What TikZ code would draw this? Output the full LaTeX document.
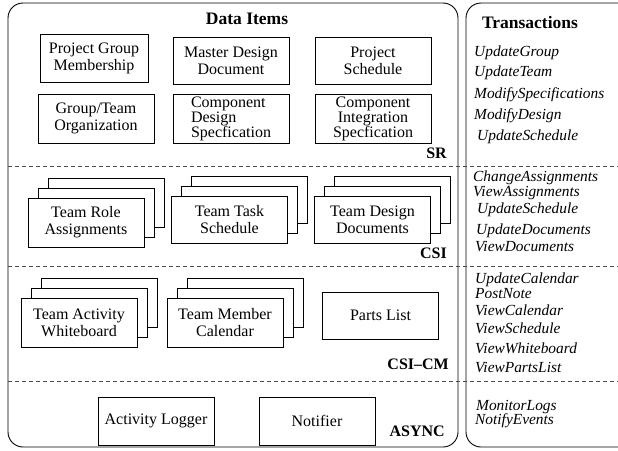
\documentclass[tikz,border=0pt]{standalone}
\usepackage{fontspec}
\setmainfont{Liberation Serif}
\usetikzlibrary{positioning, shadows}

\tikzset{
	item/.style={draw, fill=white, line width=0.8pt, minimum width=116pt, minimum height=49pt, inner sep=2pt, align=center, font=\fontsize{16}{17}\selectfont},
	stack/.style={item, copy shadow={shadow xshift=20pt, shadow yshift=20pt}, copy shadow={shadow xshift=10pt, shadow yshift=10pt}},
	heading/.style={font=\fontsize{17.5}{20}\selectfont\bfseries, inner sep=0pt},
	level/.style={font=\fontsize{16}{18}\selectfont\bfseries, anchor=base east, inner sep=0pt},
	trans/.style={font=\fontsize{15.4}{17}\selectfont\itshape, anchor=base west, inner sep=0pt},
	sep/.style={draw=black!70, dash pattern=on 4pt off 3pt, line width=0.8pt},
	panel/.style={draw, rounded corners=15pt, line width=0.9pt},
}

\begin{document}
\begin{tikzpicture}[x=1pt, y=-1pt]
	\useasboundingbox (0,0) rectangle (618,450);
	% the two panels
	\draw [panel] (8,3) rectangle (458,447);
	\draw [panel] (466,3) rectangle (650,447);
	% level separators
	\draw [sep] (8,166) -- (618,166);
	\draw [sep] (8,266.5) -- (618,266.5);
	\draw [sep] (8,381) -- (618,381);

	\node (dataitems) [heading] at (247,19) {Data Items};
	\node (transactions) [heading] at (530,23) {Transactions};

	% SR
	\node (membership) [item, minimum width=108pt, minimum height=48pt] at (94,58) {Project Group\\Membership};
	\node (master) [item, minimum height=47pt] at (231,60.5) {Master Design\\Document};
	\node (schedule) [item, minimum height=47pt] at (373,60.5) {Project\\Schedule};
	\node (organization) [item] at (96,118.5) {Group/Team\\Organization};
	\node (compdesign) [item, align=left, font=\fontsize{16}{15}\selectfont] at (231,118.5) {Component\\Design\\Specfication};
	\node (integration) [item, font=\fontsize{16}{15}\selectfont] at (373,118.5) {Component\\Integration\\Specfication};
	\node (sr) [level] at (447,158) {SR};

	% CSI
	\node (roles) [stack] at (86,222.5) {Team Role\\Assignments};
	\node (tasks) [stack, minimum height=47pt] at (229.5,219.5) {Team Task\\Schedule};
	\node (designdocs) [stack, minimum height=47pt] at (372.5,219.5) {Team Design\\Documents};
	\node (csi) [level] at (447,258) {CSI};

	% CSI-CM
	\node (whiteboard) [stack] at (79,322.5) {Team Activity\\Whiteboard};
	\node (calendar) [stack] at (225,322.5) {Team Member\\Calendar};
	\node (partslist) [item, minimum height=47pt] at (380.5,315.5) {Parts List};
	\node (csicm) [level] at (449,369) {CSI--CM};

	% ASYNC
	\node (logger) [item, minimum height=48pt] at (156,421) {Activity Logger};
	\node (notifier) [item, minimum height=48pt] at (317,421) {Notifier};
	\node (async) [level] at (445,436) {ASYNC};

	% transactions
	\node (updgroup) [trans] at (474,56) {UpdateGroup};
	\node (updteam) [trans] at (474,76.5) {UpdateTeam};
	\node (modspec) [trans] at (474,98) {ModifySpecifications};
	\node (moddesign) [trans] at (474,119) {ModifyDesign};
	\node (updsched) [trans] at (477,140) {UpdateSchedule};

	\node (chassign) [trans] at (473,181.5) {ChangeAssignments};
	\node (viewassign) [trans] at (473,196.5) {ViewAssignments};
	\node (updschedcsi) [trans] at (477,213) {UpdateSchedule};
	\node (upddocs) [trans] at (476,234) {UpdateDocuments};
	\node (viewdocs) [trans] at (475,251.5) {ViewDocuments};

	\node (updcal) [trans] at (475,283) {UpdateCalendar};
	\node (postnote) [trans] at (475,298) {PostNote};
	\node (viewcal) [trans] at (475,315) {ViewCalendar};
	\node (viewsched) [trans] at (475,333) {ViewSchedule};
	\node (viewboard) [trans] at (475,353) {ViewWhiteboard};
	\node (viewparts) [trans] at (475,372) {ViewPartsList};

	\node (monitor) [trans] at (476,410) {MonitorLogs};
	\node (notify) [trans] at (475,424) {NotifyEvents};
\end{tikzpicture}
\end{document}
